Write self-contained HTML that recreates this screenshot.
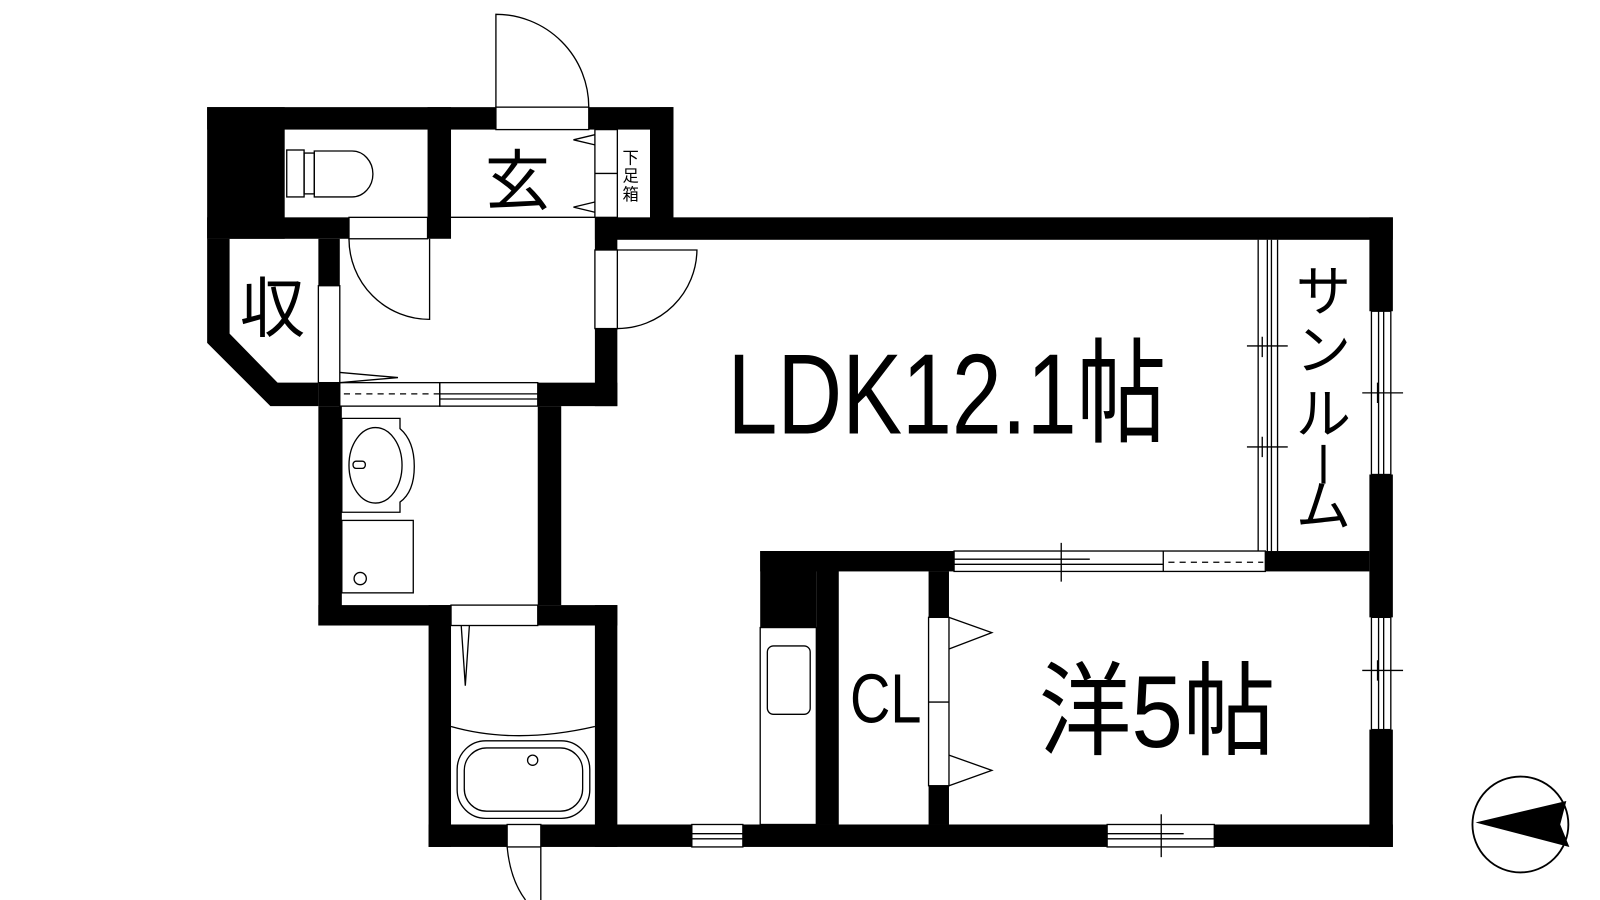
<!DOCTYPE html>
<html><head><meta charset="utf-8"><style>html,body{margin:0;padding:0;background:#fff;}svg{display:block}</style></head>
<body>
<svg width="1600" height="900" viewBox="0 0 1568 882" xmlns="http://www.w3.org/2000/svg" font-family="'Liberation Sans','Noto Sans CJK JP',sans-serif">
<rect width="1568" height="882" fill="#fff"/>
<g fill="#000">
<rect x="203" y="105" width="283" height="22"/>
<rect x="577" y="105" width="83" height="22"/>
<rect x="203" y="105" width="76" height="129"/>
<rect x="203" y="213" width="139" height="21"/>
<rect x="419" y="105" width="23" height="129"/>
<rect x="637" y="105" width="23" height="129"/>
<rect x="583" y="213" width="782" height="22"/>
<rect x="583" y="213" width="22" height="32"/>
<rect x="583" y="322" width="22" height="76"/>
<polygon points="203,234 225,234 225,327 272,375 312,375 312,398 265,398 203,336"/>
<rect x="312" y="234" width="21" height="46"/>
<rect x="312" y="375" width="21" height="23"/>
<rect x="527" y="375" width="78" height="23"/>
<rect x="312" y="398" width="23" height="215"/>
<rect x="527" y="398" width="23" height="195"/>
<rect x="312" y="593" width="130" height="20"/>
<rect x="527" y="593" width="78" height="20"/>
<rect x="420" y="593" width="22" height="237"/>
<rect x="583" y="593" width="22" height="237"/>
<rect x="420" y="808" width="77" height="22"/>
<rect x="530" y="808" width="148" height="22"/>
<rect x="728" y="808" width="357" height="22"/>
<rect x="1190" y="808" width="175" height="22"/>
<rect x="1342" y="213" width="23" height="92"/>
<rect x="1342" y="465" width="23" height="140"/>
<rect x="1342" y="715" width="23" height="115"/>
<rect x="745" y="540" width="190" height="20"/>
<rect x="1240" y="540" width="102" height="20"/>
<rect x="745" y="540" width="55" height="75"/>
<rect x="800" y="540" width="22" height="268"/>
<rect x="910" y="560" width="20" height="45"/>
<rect x="910" y="770" width="20" height="38"/>
</g>
<g fill="none" stroke="#000" stroke-width="1.3">
<path d="M486,105 V14 A91,91 0 0 1 577,105"/>
<rect x="486" y="105" width="91" height="22"/>
<line x1="442" y1="213" x2="583" y2="213"/>
<rect x="583" y="127" width="22" height="86"/>
<line x1="583" y1="170" x2="605" y2="170"/>
<path d="M583,132 L562,137 L583,142 M583,198 L562,203 L583,208"/>
<rect x="342" y="213" width="77" height="21"/>
<path d="M342,234 A79,79 0 0 0 421,313 V234"/>
<rect x="312" y="280" width="21" height="95"/>
<path d="M333,365 L390,370 L333,375"/>
<rect x="333" y="375" width="98" height="23"/>
<line x1="337" y1="386" x2="431" y2="386" stroke-dasharray="6,5"/>
<rect x="431" y="375" width="96" height="23"/>
<line x1="431" y1="386" x2="527" y2="386"/>
<line x1="431" y1="391" x2="527" y2="391"/>
<rect x="583" y="245" width="22" height="77"/>
<path d="M605,322 A78,78 0 0 0 683,245 H605"/>
<rect x="281" y="147" width="17" height="46"/>
<rect x="298" y="150" width="10" height="40"/>
<path d="M308,148 H345 A20,22 0 0 1 345,193 H308 Z"/>
<path d="M335,410 H392 V420 Q406,432 406,457 Q406,482 392,492 V502 H335 Z"/>
<ellipse cx="368" cy="456" rx="26" ry="37"/>
<rect x="346" y="452" width="12" height="7" rx="3"/>
<rect x="335" y="510" width="70" height="71"/>
<circle cx="353" cy="567" r="6"/>
<rect x="442" y="593" width="85" height="20"/>
<path d="M452,613 L456,672 L460,613"/>
<path d="M442,712 Q505,730 583,712"/>
<rect x="448" y="726" width="130" height="76" rx="28"/>
<rect x="455" y="733" width="116" height="62" rx="22"/>
<circle cx="522" cy="745" r="5"/>
<rect x="497" y="808" width="33" height="22"/>
<path d="M530,830 V882 M497,830 Q500,862 515,882"/>
<rect x="678" y="808" width="50" height="22"/>
<line x1="678" y1="817" x2="728" y2="817"/><line x1="678" y1="822" x2="728" y2="822"/>
<rect x="745" y="615" width="55" height="193"/>
<rect x="752" y="633" width="42" height="67" rx="6"/>
<rect x="910" y="605" width="20" height="165"/>
<line x1="910" y1="688" x2="930" y2="688"/>
<path d="M930,605 L972,620 L930,636 M930,740 L972,755 L930,770"/>
<rect x="935" y="540" width="305" height="20"/>
<line x1="935" y1="548" x2="1068" y2="548"/>
<line x1="935" y1="553" x2="1140" y2="553"/>
<line x1="1140" y1="540" x2="1140" y2="560"/>
<line x1="1040" y1="532" x2="1040" y2="570"/>
<line x1="1145" y1="551" x2="1238" y2="551" stroke-dasharray="6,5"/>
<line x1="1233" y1="235" x2="1233" y2="540"/>
<line x1="1252" y1="235" x2="1252" y2="540"/>
<line x1="1242" y1="235" x2="1242" y2="540"/>
<line x1="1246" y1="235" x2="1246" y2="540"/>
<path d="M1222,339 H1262 M1237,330 V350 M1222,438 H1262 M1237,428 V448"/>
<rect x="1344" y="305" width="19" height="160"/>
<line x1="1351" y1="305" x2="1351" y2="465"/><line x1="1356" y1="305" x2="1356" y2="465"/>
<path d="M1335,385 H1375 M1350,375 V395"/>
<rect x="1344" y="605" width="19" height="110"/>
<line x1="1351" y1="605" x2="1351" y2="715"/><line x1="1356" y1="605" x2="1356" y2="715"/>
<path d="M1335,657 H1375 M1350,647 V667"/>
<rect x="1085" y="808" width="105" height="22"/>
<line x1="1085" y1="817" x2="1160" y2="817"/><line x1="1085" y1="822" x2="1190" y2="822"/>
<line x1="1138" y1="798" x2="1138" y2="840"/>
<circle cx="1490" cy="808" r="47" stroke-width="1.8"/>
</g>
<polygon points="1446,806 1535,785 1529,808 1538,830" fill="#000"/>
<g fill="#000">
<text x="713" y="425" font-size="112" textLength="430" lengthAdjust="spacingAndGlyphs">LDK12.1帖</text>
<text x="1018" y="732" font-size="100" textLength="232" lengthAdjust="spacingAndGlyphs">洋5帖</text>
<text x="833" y="708" font-size="68" textLength="70" lengthAdjust="spacingAndGlyphs">CL</text>
<text x="475" y="200" font-size="64">玄</text>
<text x="235" y="325" font-size="64">収</text>
<text x="610" y="160" font-size="16">下</text>
<text x="610" y="178" font-size="16">足</text>
<text x="610" y="196" font-size="16">箱</text>
<text x="1270" y="305" font-size="54">サ</text>
<text x="1270" y="362" font-size="54">ン</text>
<text x="1270" y="425" font-size="54">ル</text>
<rect x="1295" y="436" width="4" height="38"/>
<text x="1270" y="515" font-size="54">ム</text>
</g>
</svg>
</body></html>
